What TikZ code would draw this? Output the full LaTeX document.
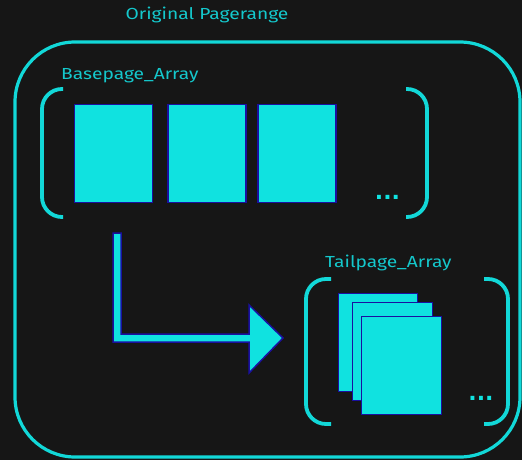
\documentclass[tikz,border=0pt]{standalone}
\usepackage{fontspec}
\setmainfont{Fira Sans}[FakeStretch=1.2]
\newfontfamily\dotfont{DejaVu Sans}
\definecolor{bg}{HTML}{161616}
\definecolor{cyanfill}{HTML}{10E2E0}
\definecolor{cyanline}{HTML}{12D8D8}
\definecolor{cyantext}{HTML}{14C8CC}
\definecolor{pageedge}{HTML}{1A10A0}
\tikzset{
  frame/.style={draw=cyanline, line width=3.2pt, rounded corners=60pt},
  bracket/.style={draw=cyanline, line width=3.8pt, rounded corners=20pt},
  pagebox/.style={rectangle, fill=cyanfill, draw=pageedge, line width=1.5pt,
    inner sep=0pt, minimum width=78pt, minimum height=98pt},
  label/.style={text=cyantext, font=\fontsize{16}{19}\selectfont, inner sep=0pt},
  more/.style={text=cyanfill, font=\dotfont\bfseries\fontsize{22}{26}\selectfont, inner sep=0pt},
  blockarrow/.style={fill=cyanfill, draw=pageedge, line width=1.5pt, line join=miter}
}
\begin{document}
\begin{tikzpicture}[x=1pt,y=-1pt]
\fill[bg] (0,0) rectangle (522,460);
\useasboundingbox (0,0) rectangle (522,460);

% outer range frame
\node[label] (title) at (207,15) {Original Pagerange};
\draw[frame] (15,42) rectangle (520,457);

% base page array
\node[label, anchor=west] (baselabel) at (61,76) {Basepage\_Array};
\draw[bracket] (63,89) -- (42,89) -- (42,217) -- (63,217);
\draw[bracket] (406,89) -- (427,89) -- (427,217) -- (406,217);
\node[pagebox] (b1) at (113.5,153.5) {};
\node[pagebox] (b2) at (207,153.5) {};
\node[pagebox] (b3) at (297,153.5) {};
\node[more] (bdots) at (387.5,197) {...};

% tail page array
\node[label, anchor=west] (taillabel) at (325,263) {Tailpage\_Array};
\draw[bracket] (331,279) -- (306,279) -- (306,424) -- (331,424);
\draw[bracket] (484,279) -- (508,279) -- (508,424) -- (484,424);
\node[pagebox, minimum width=79pt] (t1) at (378,342.5) {};
\node[pagebox, minimum width=80pt] (t2) at (392.5,351.5) {};
\node[pagebox, minimum width=80pt] (t3) at (401.5,365.5) {};
\node[more] (tdots) at (481,398) {...};

% bent block arrow from the base array to the tail array
\coordinate (astart) at (117,233);
\coordinate (atip) at (283,338);
\draw[blockarrow] ([xshift=-4pt]astart) -- ++(8,0) -- ++(0,101) -- ++(128,0)
  -- ++(0,-29) -- (atip) -- ++(-34,35) -- ++(0,-31) -- ++(-136,0) -- cycle;
\end{tikzpicture}
\end{document}
